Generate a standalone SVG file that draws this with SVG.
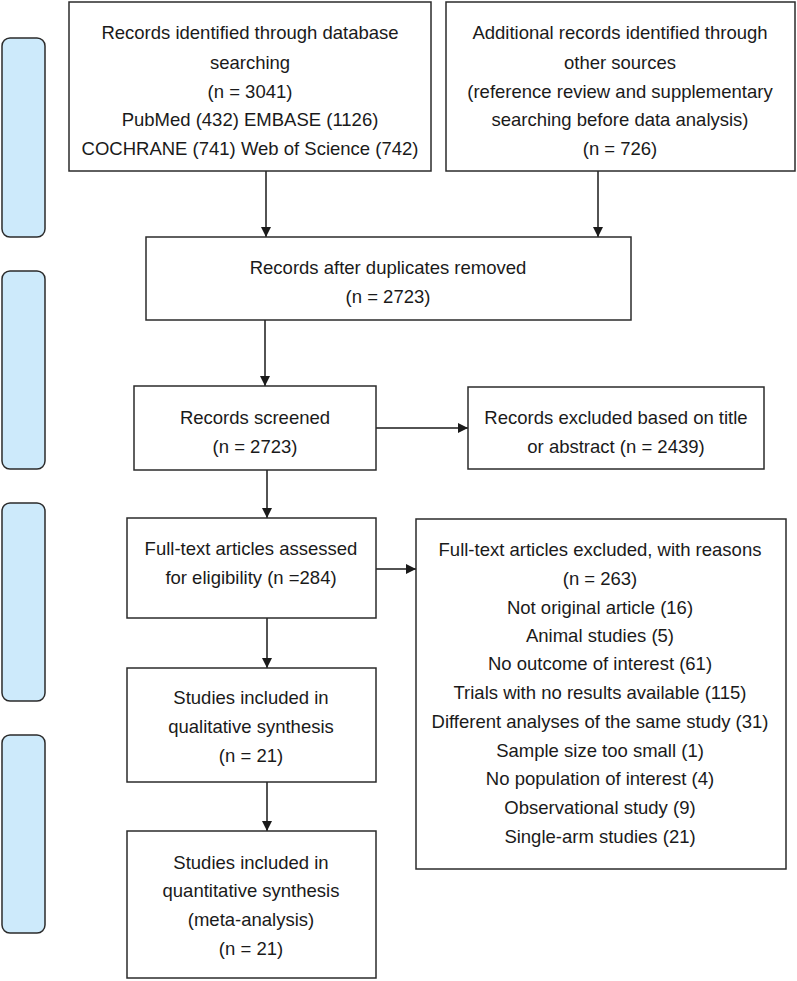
<svg xmlns="http://www.w3.org/2000/svg" width="797" height="981" viewBox="0 0 797 981">
<defs>
<style>
.box{fill:#fff;stroke:#2b2b2b;stroke-width:1.5}
.bar{fill:#cdeafb;stroke:#2b2b2b;stroke-width:1.5}
.t{font-family:"Liberation Sans",Arial,sans-serif;font-size:18.5px;fill:#1a1a1a;text-anchor:middle}
.c{stroke:#1a1a1a;stroke-width:1.5;fill:none;marker-end:url(#ah)}
</style>
<marker id="ah" viewBox="0 0 10 10" refX="10" refY="5" markerWidth="10" markerHeight="10" markerUnits="userSpaceOnUse" orient="auto">
<path d="M0,0 L10,5 L0,10 z" fill="#1a1a1a"/>
</marker>
</defs>
<g id="bars">
<rect class="bar" x="2" y="38" width="43" height="199" rx="8"/>
<rect class="bar" x="2" y="271" width="43" height="198" rx="8"/>
<rect class="bar" x="2" y="503" width="43" height="198" rx="8"/>
<rect class="bar" x="2" y="735" width="43" height="198" rx="8"/>
</g>
<g id="connectors">
<path class="c" d="M266,171 V237"/>
<path class="c" d="M598,171 V237"/>
<path class="c" d="M265,320 V386"/>
<path class="c" d="M376,428 H468"/>
<path class="c" d="M267,470 V518"/>
<path class="c" d="M376,569 H416"/>
<path class="c" d="M267,618 V668"/>
<path class="c" d="M267,782 V831"/>
</g>
<g id="n1">
<rect class="box" x="69" y="2" width="362" height="169"/>
<text class="t" x="250" y="38.5">Records identified through database</text>
<text class="t" x="250" y="68.5">searching</text>
<text class="t" x="250" y="97.5">(n = 3041)</text>
<text class="t" x="250" y="125.5">PubMed (432) EMBASE (1126)</text>
<text class="t" x="250" y="154.5">COCHRANE (741) Web of Science (742)</text>
</g>
<g id="n2">
<rect class="box" x="446" y="2" width="349" height="169"/>
<text class="t" x="620" y="38.5">Additional records identified through</text>
<text class="t" x="620" y="68.5">other sources</text>
<text class="t" x="620" y="97.5">(reference review and supplementary</text>
<text class="t" x="620" y="125.5">searching before data analysis)</text>
<text class="t" x="620" y="154.5">(n = 726)</text>
</g>
<g id="n3">
<rect class="box" x="146" y="237" width="485" height="83"/>
<text class="t" x="388" y="273.5">Records after duplicates removed</text>
<text class="t" x="388" y="302.5">(n = 2723)</text>
</g>
<g id="n4">
<rect class="box" x="134" y="386" width="242" height="84"/>
<text class="t" x="255" y="423.5">Records screened</text>
<text class="t" x="255" y="452.5">(n = 2723)</text>
</g>
<g id="n5">
<rect class="box" x="468" y="387" width="296" height="82"/>
<text class="t" x="616" y="423.5">Records excluded based on title</text>
<text class="t" x="616" y="452.5">or abstract (n = 2439)</text>
</g>
<g id="n6">
<rect class="box" x="127" y="518" width="249" height="100"/>
<text class="t" x="251" y="554.5">Full-text articles assessed</text>
<text class="t" x="251" y="583.5">for eligibility (n =284)</text>
</g>
<g id="n7">
<rect class="box" x="416" y="519" width="370" height="350"/>
<text class="t" x="600" y="555.5">Full-text articles excluded, with reasons</text>
<text class="t" x="600" y="584.5">(n = 263)</text>
<text class="t" x="600" y="613.5">Not original article (16)</text>
<text class="t" x="600" y="641.5">Animal studies (5)</text>
<text class="t" x="600" y="669.5">No outcome of interest (61)</text>
<text class="t" x="600" y="698.5">Trials with no results available (115)</text>
<text class="t" x="600" y="727.5">Different analyses of the same study (31)</text>
<text class="t" x="600" y="756.5">Sample size too small (1)</text>
<text class="t" x="600" y="784.5">No population of interest (4)</text>
<text class="t" x="600" y="813.5">Observational study (9)</text>
<text class="t" x="600" y="842.5">Single-arm studies (21)</text>
</g>
<g id="n8">
<rect class="box" x="127" y="668" width="249" height="114"/>
<text class="t" x="251" y="703.5">Studies included in</text>
<text class="t" x="251" y="732.5">qualitative synthesis</text>
<text class="t" x="251" y="761.5">(n = 21)</text>
</g>
<g id="n9">
<rect class="box" x="127" y="831" width="249" height="147"/>
<text class="t" x="251" y="868.5">Studies included in</text>
<text class="t" x="251" y="896.5">quantitative synthesis</text>
<text class="t" x="251" y="925.5">(meta-analysis)</text>
<text class="t" x="251" y="954.5">(n = 21)</text>
</g>
</svg>
